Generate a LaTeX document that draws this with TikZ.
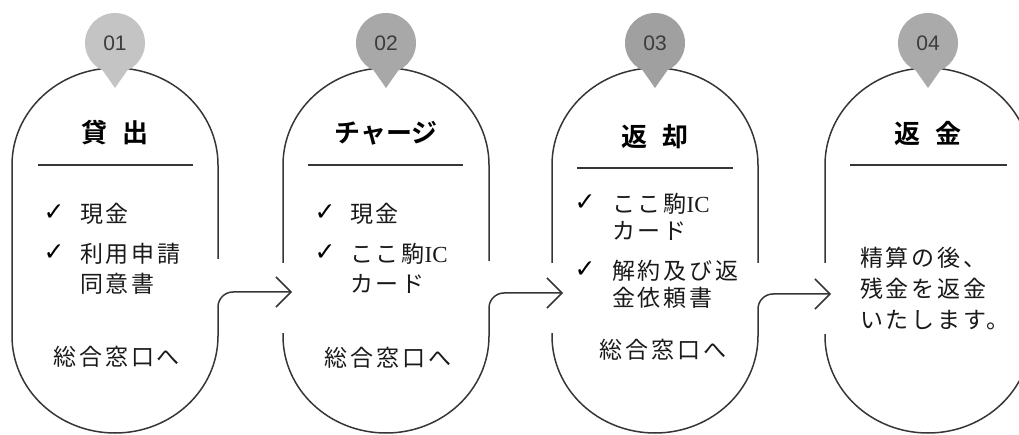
\documentclass[tikz,border=0pt]{standalone}
\usepackage{fontspec}
\usepackage{xcolor}
\setmainfont{Noto Sans CJK JP}
\newfontfamily\jpfont[LetterSpace=12]{Noto Sans CJK JP}
\newfontfamily\jptitle{Noto Sans CJK JP Bold}
\newfontfamily\numfont{Liberation Sans}
\newfontfamily\checkfont{DejaVu Sans}
\newfontfamily\icfont{Liberation Serif}
\usetikzlibrary{arrows.meta, positioning}
\definecolor{pinA}{HTML}{C4C4C4}
\definecolor{pinB}{HTML}{A8A8A8}
\definecolor{pinC}{HTML}{A0A0A0}
\definecolor{pinD}{HTML}{AAAAAA}
\definecolor{edge}{HTML}{363636}
\definecolor{numtext}{HTML}{3C3C3C}

\begin{document}
\begin{tikzpicture}[x=1pt, y=1pt,
		> = {Straight Barb[length=15pt,width=30pt]},
		outline/.style = {draw=edge, line width=1.5pt},
		flow/.style = {draw=edge, line width=1.5pt, rounded corners=15pt, ->},
		rule/.style = {draw=edge, line width=1.3pt},
		title/.style = {font=\jptitle\fontsize{26}{30}\selectfont},
		item/.style = {font=\jpfont\fontsize{23}{30}\selectfont, text=black!90,
			align=left, anchor=north west, inner sep=0pt},
		counter/.style = {font=\jpfont\fontsize{23}{30}\selectfont, text=black!90,
			inner sep=0pt},
		tick/.style = {font=\checkfont\fontsize{25}{28}\selectfont, inner sep=0pt},
		num/.style = {font=\numfont\fontsize{21}{24}\selectfont, text=numtext}]
	\clip (0,0) rectangle (1019,-435);
	
	% puntos de los conectores
	\coordinate (out1) at (218,-336);
	\coordinate (out2) at (489,-336);
	\coordinate (out3) at (758,-336);
	\coordinate (in2) at (292,-292);
	\coordinate (in3) at (563,-293);
	\coordinate (in4) at (831,-294);
	
	% contornos
	\draw [outline] (218,-259) -- (218,-165)
		arc [start angle=0, end angle=180, x radius=103pt, y radius=97pt]
		-- (12,-336)
		arc [start angle=180, end angle=360, x radius=103pt, y radius=97pt];
	\draw [outline] (489,-261) -- (489,-165)
		arc [start angle=0, end angle=180, x radius=103pt, y radius=97pt]
		-- (283,-263)
		(283,-333) -- (283,-336)
		arc [start angle=180, end angle=360, x radius=103pt, y radius=97pt];
	\draw [outline] (758,-263) -- (758,-165)
		arc [start angle=0, end angle=180, x radius=103pt, y radius=97pt]
		-- (552,-263)
		(552,-333) -- (552,-336)
		arc [start angle=180, end angle=360, x radius=103pt, y radius=97pt];
	\draw [outline] (1031,-336) -- (1031,-165)
		arc [start angle=0, end angle=180, x radius=103pt, y radius=97pt]
		-- (825,-263)
		(825,-334) -- (825,-336)
		arc [start angle=180, end angle=360, x radius=103pt, y radius=97pt];
	
	% flechas
	\draw [flow] (out1) |- (in2);
	\draw [flow] (out2) |- (in3);
	\draw [flow] (out3) |- (in4);
	
	% marcas
	\fill [pinA] (115,-43) circle [radius=30pt] (101,-68) -- (115,-88) -- (129,-68) -- cycle;
	\fill [pinB] (386,-43) circle [radius=30pt] (372,-68) -- (386,-88) -- (400,-68) -- cycle;
	\fill [pinC] (655,-43) circle [radius=30pt] (641,-68) -- (655,-88) -- (669,-68) -- cycle;
	\fill [pinD] (928,-43) circle [radius=30pt] (914,-68) -- (928,-88) -- (942,-68) -- cycle;
	\node [num] (num1) at (115,-43) {01};
	\node [num] (num2) at (386,-43) {02};
	\node [num] (num3) at (655,-43) {03};
	\node [num] (num4) at (928,-43) {04};
	
	% titulos
	\node [title] (head1) at (115,-133) {貸\hspace{0.6em}出};
	\node [title] (head2) at (386,-133) {チャージ};
	\node [title] (head3) at (655,-137) {返\hspace{0.6em}却};
	\node [title] (head4) at (928,-133) {返\hspace{0.6em}金};
	\draw [rule] (38,-165) -- (193,-165);
	\draw [rule] (308,-165) -- (463,-165);
	\draw [rule] (577,-168) -- (733,-168);
	\draw [rule] (850,-165) -- (1007,-165);
	
	% 01
	\node [tick] (tick11) at (54,-213) {✓};
	\node [tick] (tick12) at (54,-253) {✓};
	\node [item] (item11) at (80,-203) {現金};
	\node [item] (item12) at (80,-243) {利用申請\\同意書};
	\node [counter] (desk1) at (117,-357) {総合窓口へ};
	
	% 02
	\node [tick] (tick21) at (325,-213) {✓};
	\node [tick] (tick22) at (325,-253) {✓};
	\node [item] (item21) at (350,-203) {現金};
	\node [item] (item22) at (350,-243) {ここ駒{\icfont IC}\\カード};
	\node [counter] (desk2) at (388,-358) {総合窓口へ};
	
	% 03
	\node [tick] (tick31) at (585,-203) {✓};
	\node [tick] (tick32) at (585,-270) {✓};
	\node [item] (item31) at (612,-193) {ここ駒{\icfont IC}\\[-3pt]カード};
	\node [item] (item32) at (612,-260) {解約及び返\\[-3pt]金依頼書};
	\node [counter] (desk3) at (663,-350) {総合窓口へ};
	
	% 04
	\node [item] (item41) at (860,-247) {精算の後、\\[1pt]残金を返金\\[1pt]いたします。};
\end{tikzpicture}
\end{document}
